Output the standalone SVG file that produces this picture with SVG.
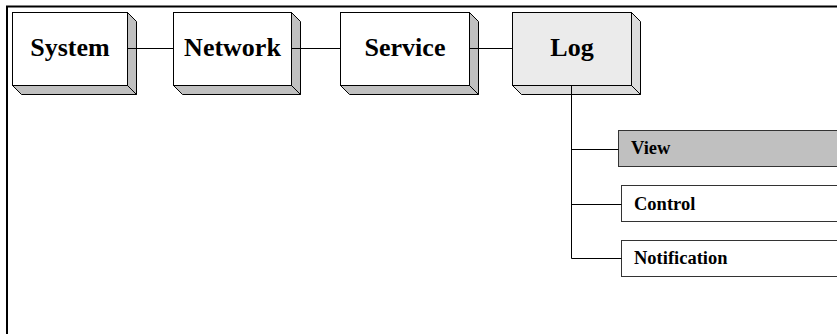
<svg xmlns="http://www.w3.org/2000/svg" width="837" height="334" viewBox="0 0 837 334">
<style>
.front{fill:#ffffff;stroke:#000;stroke-width:1}
.depth{fill:#c0c0c0;stroke:#000;stroke-width:1;stroke-linejoin:miter}
.lfront{fill:#ebebeb;stroke:#000;stroke-width:1}
.ldepth{fill:#dcdcdc;stroke:#000;stroke-width:1}
.big{font-family:"Liberation Serif","Times New Roman",serif;font-weight:bold;font-size:26px;text-anchor:middle;fill:#000}
.small{font-family:"Liberation Serif","Times New Roman",serif;font-weight:bold;font-size:18.5px;fill:#000}
.sub{fill:#ffffff;stroke:#333;stroke-width:1}
.subsel{fill:#c0c0c0;stroke:#333;stroke-width:1}
.conn{fill:none;stroke:#000;stroke-width:1}
</style>
<rect x="0" y="0" width="837" height="334" fill="#ffffff"/>
<path d="M7,334 V6.5 H837" fill="none" stroke="#000" stroke-width="2"/>
<g id="node-system">
<polygon class="depth" points="127.5,12.5 136.5,21.5 136.5,94.5 127.5,85.5"/>
<polygon class="depth" points="12.5,85.5 127.5,85.5 136.5,94.5 21.5,94.5"/>
<rect class="front" x="12.5" y="12.5" width="115" height="73"/>
<text class="big" x="70" y="56">System</text>
</g>
<g id="node-network">
<polygon class="depth" points="291.5,12.5 300.5,21.5 300.5,94.5 291.5,85.5"/>
<polygon class="depth" points="173.5,85.5 291.5,85.5 300.5,94.5 182.5,94.5"/>
<rect class="front" x="173.5" y="12.5" width="118" height="73"/>
<text class="big" x="232.5" y="56">Network</text>
</g>
<g id="node-service">
<polygon class="depth" points="469.5,12.5 478.5,21.5 478.5,94.5 469.5,85.5"/>
<polygon class="depth" points="340.5,85.5 469.5,85.5 478.5,94.5 349.5,94.5"/>
<rect class="front" x="340.5" y="12.5" width="129" height="73"/>
<text class="big" x="405" y="56">Service</text>
</g>
<g id="node-log">
<polygon class="ldepth" points="631.5,12.5 640.5,21.5 640.5,94.5 631.5,85.5"/>
<polygon class="ldepth" points="512.5,85.5 631.5,85.5 640.5,94.5 521.5,94.5"/>
<rect class="lfront" x="512.5" y="12.5" width="119" height="73"/>
<text class="big" x="572" y="56">Log</text>
</g>
<g id="node-view">
<rect class="subsel" x="618.5" y="130.5" width="230" height="36"/>
<text class="small" x="631" y="154">View</text>
</g>
<g id="node-control">
<rect class="sub" x="621.5" y="185.5" width="230" height="36"/>
<text class="small" x="634" y="209.5">Control</text>
</g>
<g id="node-notification">
<rect class="sub" x="621.5" y="240.5" width="230" height="36"/>
<text class="small" x="634" y="263.5">Notification</text>
</g>
<g id="connectors">
<line class="conn" x1="127.5" y1="48.5" x2="173.5" y2="48.5"/>
<line class="conn" x1="291.5" y1="48.5" x2="340.5" y2="48.5"/>
<line class="conn" x1="469.5" y1="48.5" x2="512.5" y2="48.5"/>
<path class="conn" d="M571.5,85.5 V258.5 H621.5"/>
<line class="conn" x1="571.5" y1="149.5" x2="618.5" y2="149.5"/>
<line class="conn" x1="571.5" y1="204.5" x2="621.5" y2="204.5"/>
</g>
</svg>
